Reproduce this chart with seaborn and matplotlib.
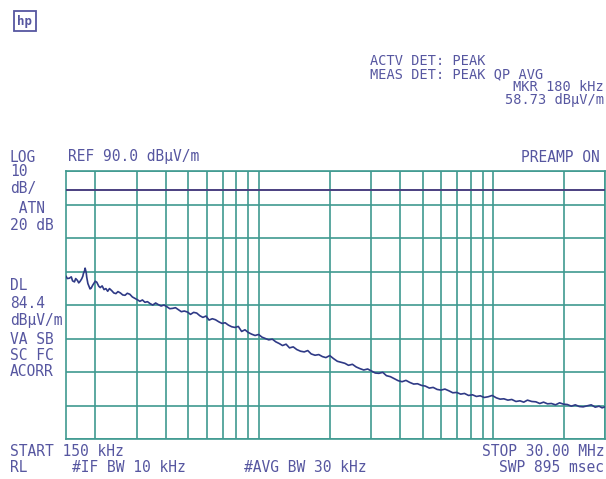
import matplotlib
matplotlib.use("Agg")
import matplotlib.pyplot as plt
import matplotlib.ticker as mticker
import numpy as np
import pandas as pd
import seaborn as sns

# trace (kHz, dBuV/m)
freq_khz = [150, 152, 155, 158, 160, 163, 165, 168, 170, 172,
            175, 177, 178, 180, 181, 183, 184, 186, 188, 190,
            192, 195, 197, 200, 203, 207, 210, 214, 218, 222,
            226, 230, 235, 240, 245, 250, 256, 262, 268, 274,
            281, 288, 295, 302, 310, 318, 326, 334, 343, 352,
            362, 372, 382, 393, 404, 416, 428, 440, 453, 466,
            480, 495, 510, 526, 542, 559, 576, 594, 612, 632,
            652, 673, 695, 717, 740, 765, 790, 816, 843, 871,
            900, 930, 962, 996, 1030, 1065, 1100, 1140, 1180, 1220,
            1260, 1305, 1350, 1400, 1450, 1505, 1560, 1615, 1670, 1735,
            1800, 1865, 1930, 2005, 2080, 2160, 2240, 2325, 2410, 2505,
            2600, 2700, 2800, 2910, 3020, 3135, 3250, 3375, 3500, 3640,
            3780, 3930, 4080, 4240, 4400, 4575, 4750, 4940, 5130, 5335,
            5540, 5760, 5980, 6220, 6460, 6720, 6980, 7260, 7540, 7845,
            8150, 8475, 8800, 9150, 9500, 9900, 10300, 10700, 11100, 11550,
            12000, 12500, 13000, 13500, 14000, 14600, 15200, 15800, 16400, 17050,
            17700, 18450, 19200, 19950, 20700, 21550, 22400, 23300, 24200, 25200,
            26200, 27250, 28300, 29150, 30000]
level_db = [58.6, 57.9, 58.0, 58.4, 57.2, 56.9, 57.9, 57.3, 56.6, 57.0,
            57.8, 58.6, 59.4, 60.2, 61.0, 59.6, 58.2, 56.4, 55.6, 54.8,
            55.0, 55.9, 56.4, 57.1, 56.8, 55.6, 55.2, 55.7, 54.6, 54.9,
            54.1, 54.9, 54.3, 53.6, 53.4, 54.0, 53.6, 53.0, 52.9, 53.5,
            53.2, 52.4, 52.0, 51.6, 51.1, 51.5, 50.8, 51.0, 50.4, 50.0,
            50.6, 50.1, 49.7, 50.0, 49.5, 48.9, 49.0, 49.2, 48.6, 48.0,
            48.2, 47.9, 47.2, 47.8, 47.6, 46.8, 46.3, 46.7, 45.5, 45.9,
            45.6, 45.0, 44.5, 44.7, 44.0, 43.5, 43.3, 43.6, 42.1, 42.6,
            41.8, 41.3, 40.9, 41.2, 40.4, 40.0, 39.6, 39.8, 39.0, 38.5,
            37.9, 38.3, 37.2, 37.5, 36.7, 36.2, 36.0, 36.4, 35.4, 35.0,
            35.2, 34.6, 34.3, 34.9, 34.0, 33.2, 32.9, 32.6, 32.0, 32.3,
            31.5, 31.0, 30.6, 30.9, 30.3, 29.7, 29.6, 29.9, 28.9, 28.6,
            28.0, 27.4, 27.1, 27.5, 26.9, 26.4, 26.5, 26.0, 25.8, 25.2,
            25.4, 24.8, 24.6, 24.9, 24.4, 23.8, 23.9, 23.4, 23.6, 23.0,
            23.2, 22.7, 22.9, 22.4, 22.6, 23.0, 22.3, 21.9, 22.0, 21.6,
            21.8, 21.2, 21.4, 21.0, 21.6, 21.2, 21.1, 20.6, 21.0, 20.5,
            20.6, 20.2, 20.8, 20.4, 20.3, 19.8, 20.2, 19.7, 19.6, 19.9,
            20.2, 19.5, 19.8, 19.3, 19.6]

REF_LEVEL = 90.0
DB_PER_DIV = 10
DISPLAY_LINE = 84.4
START_KHZ, STOP_KHZ = 150, 30000

GRID = "#3f9a90"
TRACE = "#2f3a86"
DLINE = "#4a3f80"
TXT = "#5656a0"

sns.set_style("white")
plt.rcParams["font.family"] = ["DejaVu Sans Mono", "DejaVu Sans"]

fig = plt.figure(figsize=(6.06, 4.79), dpi=100)
ax = fig.add_axes([66 / 606, 1 - 439 / 479, 539 / 606, 268 / 479])

df = pd.DataFrame({"freq": freq_khz, "level": level_db})
sns.lineplot(data=df, x="freq", y="level", ax=ax, color=TRACE, lw=1.2, zorder=5)

ax.set_xscale("log")
ax.set_xlim(START_KHZ, STOP_KHZ)
ax.set_ylim(REF_LEVEL - 8 * DB_PER_DIV, REF_LEVEL)
ax.xaxis.set_major_locator(mticker.LogLocator(base=10, subs=np.arange(1, 10), numticks=50))
ax.xaxis.set_minor_locator(mticker.NullLocator())
ax.yaxis.set_major_locator(mticker.MultipleLocator(DB_PER_DIV))
ax.grid(True, color=GRID, lw=1.2)
ax.axhline(DISPLAY_LINE, color=DLINE, lw=1.4, zorder=4)
ax.tick_params(length=0, labelbottom=False, labelleft=False)
ax.set_xlabel("")
ax.set_ylabel("")
for s in ax.spines.values():
    s.set_color(GRID)
    s.set_linewidth(1.2)


def txt(x, y, s, ha="left", size=10.5):
    fig.text(x / 606, 1 - y / 479, s, ha=ha, va="center", fontsize=size, color=TXT)


# logo box
fig.text(25 / 606, 1 - 21 / 479, "hp", ha="center", va="center", fontsize=9,
         color=TXT, fontweight="bold",
         bbox=dict(boxstyle="square,pad=0.3", fc="white", ec=TXT, lw=1.3))

txt(370, 61, "ACTV DET: PEAK", size=9.8)
txt(370, 74, "MEAS DET: PEAK QP AVG", size=9.8)
txt(604, 87, "MKR 180 kHz", ha="right", size=9.8)
txt(604, 100, "58.73 dBµV/m", ha="right", size=9.8)

txt(10, 157, "LOG")
txt(68, 157, "REF 90.0 dBµV/m")
txt(600, 157, "PREAMP ON", ha="right")

left_col = [(172, "10"), (189, "dB/"), (208, " ATN"), (226, "20 dB"),
            (286, "DL"), (303, "84.4"), (321, "dBµV/m"), (339, "VA SB"),
            (355, "SC FC"), (371, "ACORR")]
for y, s in left_col:
    txt(10, y, s)

txt(10, 452, "START 150 kHz")
txt(604, 452, "STOP 30.00 MHz", ha="right")
txt(10, 467, "RL")
txt(72, 467, "#IF BW 10 kHz")
txt(244, 467, "#AVG BW 30 kHz")
txt(604, 467, "SWP 895 msec", ha="right")

fig.savefig("out.png", dpi=100)
